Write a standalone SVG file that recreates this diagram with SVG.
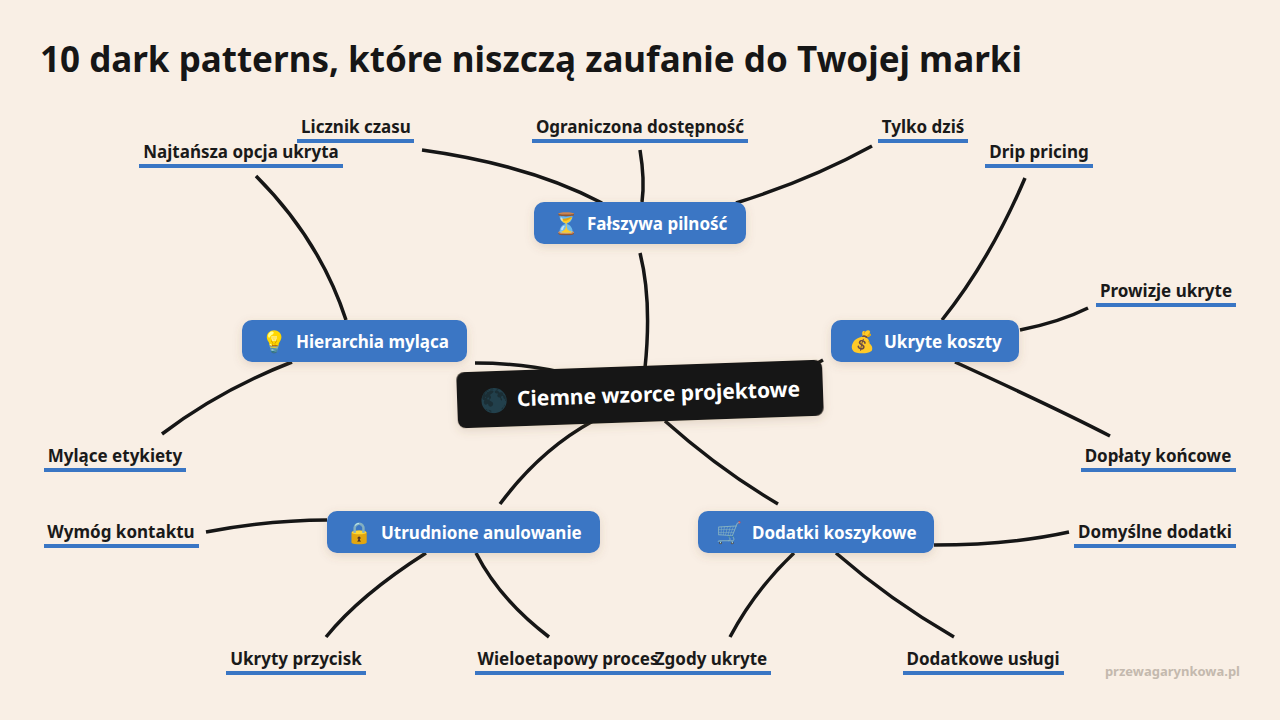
<svg xmlns="http://www.w3.org/2000/svg" width="1280" height="720" viewBox="0 0 1280 720">
<defs>
<filter id="sh" x="-20%" y="-40%" width="140%" height="180%"><feDropShadow dx="0" dy="3" stdDeviation="5" flood-color="#7a5a3a" flood-opacity="0.18"/></filter>
<style>
text{font-family:"Noto Sans","Open Sans","Liberation Sans",sans-serif;font-weight:700}
.title{font-size:35px;fill:#161616}
.b rect{fill:#3a76c4;filter:url(#sh)}
.b text{fill:#fff;font-size:17px}
.b .e{font-size:21px}
.l text{fill:#1a1a1a;font-size:17px;text-anchor:middle}
.l rect{fill:#3a76c4}
#connectors path{fill:none;stroke:#161616;stroke-width:3.5;stroke-linecap:butt}
.wm{fill:#c4b9ae;font-size:13px;text-anchor:end}
</style>
</defs>
<rect width="1280" height="720" fill="#f9efe5"/>
<text class="title" x="40" y="72" textLength="982" lengthAdjust="spacingAndGlyphs">10 dark patterns, które niszczą zaufanie do Twojej marki</text>
<g id="connectors">
<path d="M645,368 Q652,300 640,253"/>
<path d="M422,150 Q530,165 602,203"/>
<path d="M640,150 Q645,180 642,202"/>
<path d="M736,203 Q810,180 872,146"/>
<path d="M475,363 Q520,363 560,372"/>
<path d="M256,176 Q320,240 346,320"/>
<path d="M292,362 Q220,390 162,434"/>
<path d="M812,366 L823,360"/>
<path d="M1025,178 Q990,260 942,320"/>
<path d="M1020,330 Q1060,322 1088,308"/>
<path d="M955,362 Q1060,410 1110,436"/>
<path d="M593,421 Q540,450 500,504"/>
<path d="M206,532 Q270,520 327,520"/>
<path d="M426,553 Q360,595 326,637"/>
<path d="M476,553 Q500,600 549,637"/>
<path d="M665,421 Q720,470 778,504"/>
<path d="M934,545 Q1010,545 1069,532"/>
<path d="M794,553 Q755,590 730,637"/>
<path d="M836,553 Q890,600 954,637"/>
</g>
<g id="center" transform="rotate(-2 640 394)">
<rect x="457" y="366" width="366" height="56" rx="8" fill="#141414" filter="url(#sh)"/>
<text x="480" y="403" font-size="23" fill="#444">🌑</text>
<text x="517" y="402" font-size="21" fill="#fff">Ciemne wzorce projektowe</text>
</g>
<g id="b1" class="b"><rect x="534" y="202" width="212" height="42" rx="10"/><text class="e" x="553" y="231">⏳</text><text x="587" y="230">Fałszywa pilność</text></g>
<g id="b2" class="b"><rect x="242" y="320" width="225" height="42" rx="10"/><text class="e" x="261" y="349">💡</text><text x="296" y="348">Hierarchia myląca</text></g>
<g id="b3" class="b"><rect x="831" y="320" width="188" height="42" rx="10"/><text class="e" x="849" y="349">💰</text><text x="884" y="348">Ukryte koszty</text></g>
<g id="b4" class="b"><rect x="327" y="511" width="273" height="42" rx="10"/><text class="e" x="346" y="540">🔒</text><text x="381" y="539">Utrudnione anulowanie</text></g>
<g id="b5" class="b"><rect x="698" y="511" width="236" height="42" rx="10"/><text class="e" x="716" y="540">🛒</text><text x="752" y="539">Dodatki koszykowe</text></g>
<g id="l1" class="l"><text x="356" y="133">Licznik czasu</text><rect x="297" y="139" width="117" height="4"/></g>
<g id="l2" class="l"><text x="640" y="133">Ograniczona dostępność</text><rect x="532" y="139" width="216" height="4"/></g>
<g id="l3" class="l"><text x="923" y="133">Tylko dziś</text><rect x="878" y="139" width="90" height="4"/></g>
<g id="l4" class="l"><text x="241" y="158">Najtańsza opcja ukryta</text><rect x="139" y="164" width="204" height="4"/></g>
<g id="l5" class="l"><text x="1039" y="158">Drip pricing</text><rect x="985" y="164" width="108" height="4"/></g>
<g id="l6" class="l"><text x="1166" y="297">Prowizje ukryte</text><rect x="1096" y="303" width="140" height="4"/></g>
<g id="l7" class="l"><text x="115" y="462">Mylące etykiety</text><rect x="44" y="468" width="142" height="4"/></g>
<g id="l8" class="l"><text x="1158" y="462">Dopłaty końcowe</text><rect x="1081" y="468" width="155" height="4"/></g>
<g id="l9" class="l"><text x="121" y="538">Wymóg kontaktu</text><rect x="44" y="544" width="155" height="4"/></g>
<g id="l10" class="l"><text x="1155" y="538">Domyślne dodatki</text><rect x="1074" y="544" width="162" height="4"/></g>
<g id="l11" class="l"><text x="296" y="665">Ukryty przycisk</text><rect x="226" y="671" width="140" height="4"/></g>
<g id="l12" class="l"><text x="568" y="665">Wieloetapowy proces</text><rect x="475" y="671" width="185" height="4"/></g>
<g id="l13" class="l"><text x="711" y="665">Zgody ukryte</text><rect x="652" y="671" width="119" height="4"/></g>
<g id="l14" class="l"><text x="983" y="665">Dodatkowe usługi</text><rect x="903" y="671" width="161" height="4"/></g>
<text class="wm" x="1240" y="676">przewagarynkowa.pl</text>
</svg>
